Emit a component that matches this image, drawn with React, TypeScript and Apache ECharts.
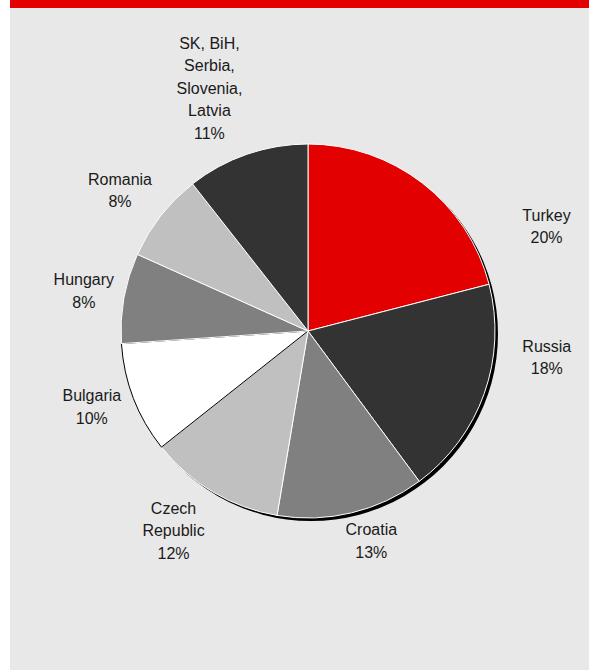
import React, { useEffect, useRef } from "react";
import * as echarts from "echarts";

const categories = ["Turkey", "Russia", "Croatia", "Czech\nRepublic", "Bulgaria", "Hungary", "Romania", "SK, BiH,\nSerbia,\nSlovenia,\nLatvia"];
const shares = [21.0, 18.9, 12.8, 11.7, 9.6, 7.8, 7.7, 10.6];
const shareLabels = ["20%", "18%", "13%", "12%", "10%", "8%", "8%", "11%"];
const sliceColors = ["#e30000", "#333333", "#808080", "#c0c0c0", "#ffffff", "#808080", "#c0c0c0", "#333333"];

const W = 589;
const H = 670;
const CX = 308;
const CY = 331;
const R = 187;
const GAP = 5;
const labelShift: Record<number, [number, number]> = {
  0: [101, 73],
  1: [29, -48],
  2: [12, -4],
  3: [-14, -4],
  4: [-4, -6],
  5: [-2, 0],
  6: [-6, 2],
  7: [-15, -1],
};

export default function App() {
  const ref = useRef<HTMLDivElement>(null);
  useEffect(() => {
    document.body.style.margin = "0";
    const chart = echarts.init(ref.current!, undefined, { renderer: "svg" });
    const total = shares.reduce((a, b) => a + b, 0);
    const cum: number[] = [];
    let acc = 0;
    shares.forEach((v) => { cum.push(acc); acc += v; });

    chart.setOption({
      animation: false,
      backgroundColor: "#ffffff",
      graphic: [
        { type: "rect", shape: { x: 10, y: 8, width: W - 10, height: H - 8 }, style: { fill: "#e8e8e8" }, z: -10 },
        { type: "rect", shape: { x: 10, y: 0, width: W - 10, height: 8 }, style: { fill: "#e30000" }, z: -10 },
      ],
      series: [
        {
          type: "pie",
          silent: true,
          center: [CX + 3, CY + 3],
          radius: R,
          startAngle: 90,
          label: { show: false },
          labelLine: { show: false },
          itemStyle: { color: "#000000", borderWidth: 0 },
          data: [{ value: 1, name: "shadow" }],
          z: 1,
        },
        {
          type: "pie",
          center: [CX, CY],
          radius: R,
          startAngle: 90,
          clockwise: true,
          avoidLabelOverlap: false,
          z: 2,
          data: categories.map((c, i) => ({
            name: c,
            value: shares[i],
            itemStyle: {
              color: sliceColors[i],
              borderColor: sliceColors[i] === "#ffffff" ? "#000000" : "#ffffff",
              borderWidth: 1,
            },
          })),
          label: {
            show: true,
            position: "outside",
            formatter: (p: any) => `${p.name}\n${shareLabels[p.dataIndex]}`,
            fontFamily: "Liberation Sans, Arial, sans-serif",
            fontSize: 16,
            lineHeight: 22.5,
            color: "#1a1a1a",
          },
          labelLine: { show: false },
          labelLayout: (params: any) => {
            if (params.seriesIndex !== 1) return {};
            const i = params.dataIndex;
            const mid = ((cum[i] + shares[i] / 2) / total) * Math.PI * 2;
            const ux = Math.sin(mid);
            const uy = -Math.cos(mid);
            const w = params.labelRect.width;
            const h = params.labelRect.height;
            const ext = (w / 2) * Math.abs(ux) + (h / 2) * Math.abs(uy);
            const d = R + GAP + ext;
            const s = labelShift[i] || [0, 0];
            return {
              x: CX + d * ux + s[0],
              y: CY + d * uy + s[1],
              align: "center",
              verticalAlign: "middle",
            };
          },
        },
      ],
    });
    return () => chart.dispose();
  }, []);
  return <div ref={ref} style={{ width: W, height: H }} />;
}
